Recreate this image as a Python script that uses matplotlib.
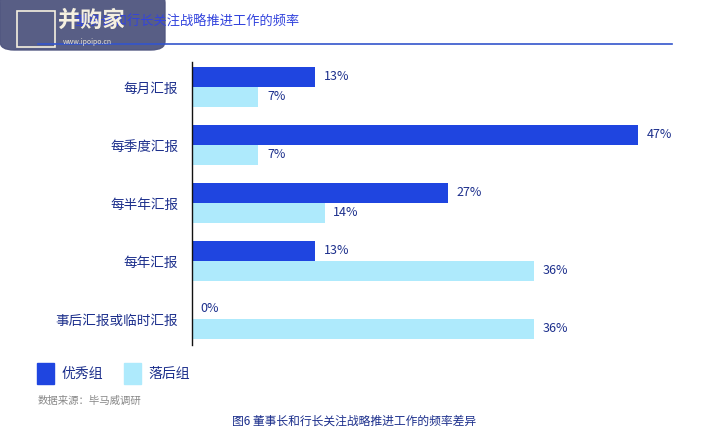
import matplotlib
matplotlib.use("Agg")
import matplotlib.pyplot as plt
from matplotlib.patches import FancyBboxPatch, Rectangle
import numpy as np

plt.rcParams['font.family'] = ['Noto Sans CJK SC', 'DejaVu Sans']

categories = ["每月汇报", "每季度汇报", "每半年汇报", "每年汇报", "事后汇报或临时汇报"]
good = [13, 47, 27, 13, 0]
bad = [7, 7, 14, 36, 36]
series_names = ["优秀组", "落后组"]

c_good = "#1f45e0"
c_bad = "#aeeafc"
c_txt = "#1c2f8c"

fig = plt.figure(figsize=(7.08, 4.34), dpi=100)
ax = fig.add_axes([192/708, 1-345/434, (672-192)/708, (345-62)/434])

step = 58
y = np.arange(len(categories)) * step
ax.barh(y + 15, good, height=20, color=c_good)
ax.barh(y + 35, bad, height=20, color=c_bad)
for yi, g, b in zip(y, good, bad):
    ax.text(g + 0.9, yi + 15, f"{g}%", va="center", ha="left", fontsize=9, color=c_txt)
    ax.text(b + 0.9, yi + 35, f"{b}%", va="center", ha="left", fontsize=9, color=c_txt)
ax.set_ylim(283, 0)
ax.set_xlim(0, (672-192) / (446/47))
ax.set_yticks(y + 25)
ax.set_yticklabels(categories, fontsize=9.8, color=c_txt)
ax.tick_params(axis="y", length=0, pad=10)
ax.set_xticks([])
for s in ["top", "right", "bottom"]:
    ax.spines[s].set_visible(False)
ax.spines["left"].set_color("#111111")
ax.spines["left"].set_linewidth(1.0)

# title and rule
fig.text(74/708, 1-22/434, "董事长和行长关注战略推进工作的频率", fontsize=9.5, color="#3344dd", va="center")
fig.add_artist(plt.Line2D([38/708, 672/708], [1-44/434, 1-44/434], color="#3355cc", lw=1.2))

# legend
fig.add_artist(Rectangle((37/708, 1-384/434), 17/708, 21/434, color=c_good, transform=fig.transFigure))
fig.text(62/708, 1-374/434, series_names[0], fontsize=10, color=c_txt, va="center")
fig.add_artist(Rectangle((124/708, 1-384/434), 17/708, 21/434, color=c_bad, transform=fig.transFigure))
fig.text(148/708, 1-374/434, series_names[1], fontsize=10, color=c_txt, va="center")

fig.text(38/708, 1-401/434, "数据来源：毕马威调研", fontsize=7.5, color="#888888", va="center")
fig.text(354/708, 1-421/434, "图6 董事长和行长关注战略推进工作的频率差异", fontsize=8.5, color=c_txt, va="center", ha="center")

# watermark overlay
fig.add_artist(FancyBboxPatch((0, 1-50/434), 165/708, 56/434, boxstyle="round,pad=0,rounding_size=0.02",
                              color="#4f557f", alpha=0.95, transform=fig.transFigure))
fig.text(58/708, 1-20/434, "并购家", fontsize=16, color="#f5f0e0", weight="bold", va="center")
fig.text(63/708, 1-42/434, "www.ipoipo.cn", fontsize=5, color="#e8e4d8", va="center")
fig.add_artist(Rectangle((17/708, 1-47/434), 38/708, 36/434, fill=False, ec="#f5f0e0", lw=1.2, transform=fig.transFigure))

fig.savefig("out.png", dpi=100, facecolor="white")
